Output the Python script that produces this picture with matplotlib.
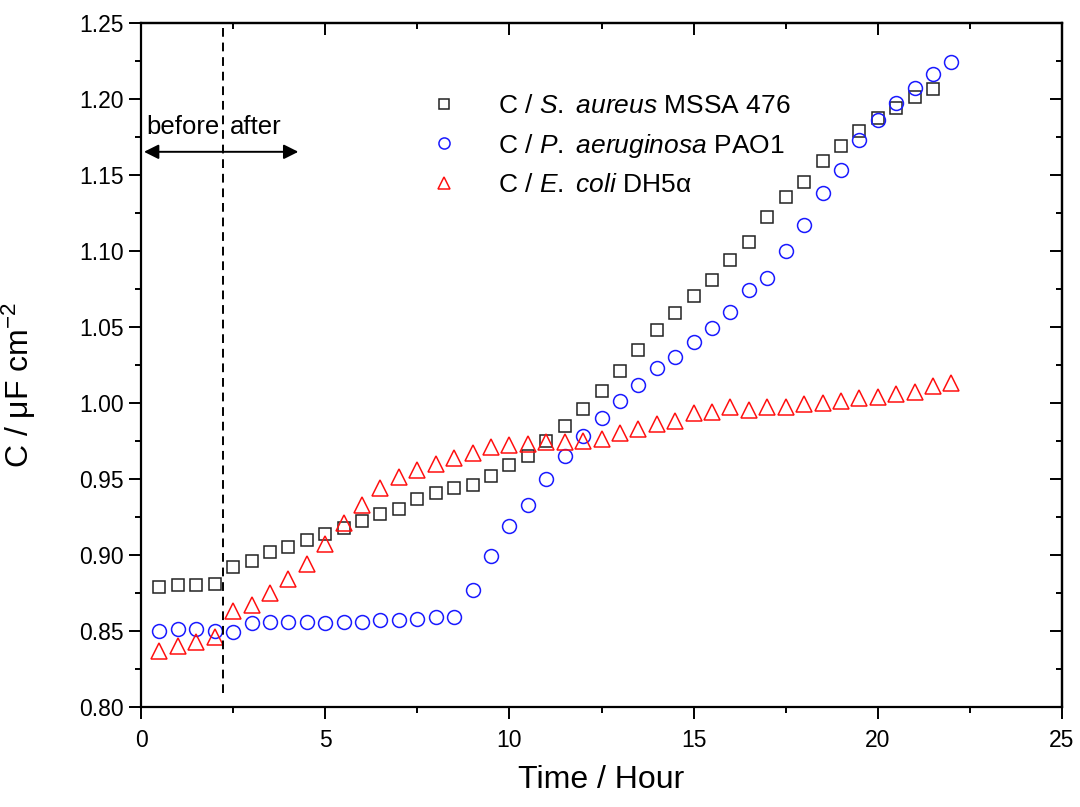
import matplotlib
matplotlib.use("Agg")
import matplotlib.pyplot as plt

plt.rcParams['font.family'] = ['Liberation Sans', 'DejaVu Sans']
plt.rcParams['mathtext.fontset'] = 'custom'
plt.rcParams['mathtext.rm'] = 'Liberation Sans'
plt.rcParams['mathtext.it'] = 'Liberation Sans:italic'

# time points (hours)
t_sa = [0.5, 1.0, 1.5, 2.0, 2.5, 3.0, 3.5, 4.0, 4.5, 5.0, 5.5, 6.0, 6.5, 7.0, 7.5,
        8.0, 8.5, 9.0, 9.5, 10.0, 10.5, 11.0, 11.5, 12.0, 12.5, 13.0, 13.5, 14.0,
        14.5, 15.0, 15.5, 16.0, 16.5, 17.0, 17.5, 18.0, 18.5, 19.0, 19.5, 20.0,
        20.5, 21.0, 21.5]
t_all = t_sa + [22.0]

# capacitance, uF cm-2
c_sa = [0.879, 0.880, 0.880, 0.881, 0.892, 0.896, 0.902, 0.905, 0.910, 0.914,
        0.918, 0.922, 0.927, 0.930, 0.937, 0.941, 0.944, 0.946, 0.952, 0.959,
        0.965, 0.975, 0.985, 0.996, 1.008, 1.021, 1.035, 1.048, 1.059, 1.070,
        1.081, 1.094, 1.106, 1.122, 1.135, 1.145, 1.159, 1.169, 1.179, 1.187,
        1.194, 1.201, 1.206]
c_pa = [0.850, 0.851, 0.851, 0.850, 0.849, 0.855, 0.856, 0.856, 0.856, 0.855,
        0.856, 0.856, 0.857, 0.857, 0.858, 0.859, 0.859, 0.877, 0.899, 0.919,
        0.933, 0.950, 0.965, 0.978, 0.990, 1.001, 1.012, 1.023, 1.030, 1.040,
        1.049, 1.060, 1.074, 1.082, 1.100, 1.117, 1.138, 1.153, 1.173, 1.186,
        1.197, 1.207, 1.216, 1.224]
c_ec = [0.837, 0.840, 0.843, 0.846, 0.863, 0.867, 0.875, 0.884, 0.894, 0.907,
        0.921, 0.933, 0.944, 0.951, 0.956, 0.960, 0.964, 0.967, 0.971, 0.972,
        0.973, 0.974, 0.974, 0.975, 0.976, 0.980, 0.983, 0.986, 0.988, 0.993,
        0.994, 0.997, 0.995, 0.997, 0.997, 0.999, 1.000, 1.001, 1.003, 1.004,
        1.006, 1.007, 1.011, 1.013]

lab_sa = r"C / $\mathit{S.\ aureus}$ MSSA 476"
lab_pa = r"C / $\mathit{P.\ aeruginosa}$ PAO1"
lab_ec = r"C / $\mathit{E.\ coli}$ DH5α"

t_add = 2.23  # time of addition

fig = plt.figure(figsize=(10.8, 8.07), dpi=100)
ax = fig.add_axes([0.1306, 0.1239, 0.8527, 0.8482])

ax.plot(t_sa, c_sa, ls='none', marker='s', ms=8.7, mfc='none', mec='#222222', mew=1.1, label=lab_sa)
ax.plot(t_all, c_pa, ls='none', marker='o', ms=10, mfc='none', mec='#1a1aff', mew=1.1, label=lab_pa)
ax.plot(t_all, c_ec, ls='none', marker='^', ms=11, mfc='none', mec='#ff1010', mew=1.1, label=lab_ec)

ax.plot([t_add, t_add], [0.809, 1.25], color='k', lw=1.4, dashes=[4.5, 3])
ax.annotate('', xy=(0.08, 1.165), xytext=(4.27, 1.165),
            arrowprops=dict(arrowstyle='<|-|>', color='k', lw=1.4,
                            mutation_scale=22, shrinkA=0, shrinkB=0))
ax.text(0.13, 1.177, 'before', fontsize=18.5, va='baseline', ha='left')
ax.text(2.42, 1.177, 'after', fontsize=18.5, va='baseline', ha='left')

ax.set_xlim(0, 25)
ax.set_ylim(0.80, 1.25)
ax.set_xticks([0, 5, 10, 15, 20, 25])
ax.set_xticks([2.5, 7.5, 12.5, 17.5, 22.5], minor=True)
ax.set_yticks([0.80, 0.85, 0.90, 0.95, 1.00, 1.05, 1.10, 1.15, 1.20, 1.25])
ax.set_yticks([0.825, 0.875, 0.925, 0.975, 1.025, 1.075, 1.125, 1.175, 1.225], minor=True)
ax.yaxis.set_major_formatter(matplotlib.ticker.FormatStrFormatter('%.2f'))

for s in ax.spines.values():
    s.set_linewidth(1.6)
ax.tick_params(which='both', direction='out', width=1.4, labelsize=16.5, top=False, right=False)
ax.tick_params(which='major', length=8.5)
ax.tick_params(which='minor', length=4.5)
ax.tick_params(axis='x', pad=7)
ax.tick_params(axis='y', pad=4)

# inward ticks on top and right
sec_x = ax.secondary_xaxis('top')
sec_x.set_xticks([0, 5, 10, 15, 20, 25])
sec_x.set_xticks([2.5, 7.5, 12.5, 17.5, 22.5], minor=True)
sec_x.tick_params(which='both', direction='in', width=1.4, labeltop=False)
sec_x.tick_params(which='major', length=8.5)
sec_x.tick_params(which='minor', length=4.5)
sec_x.spines['top'].set_linewidth(1.6)
sec_y = ax.secondary_yaxis('right')
sec_y.set_yticks([0.80, 0.85, 0.90, 0.95, 1.00, 1.05, 1.10, 1.15, 1.20, 1.25])
sec_y.set_yticks([0.825, 0.875, 0.925, 0.975, 1.025, 1.075, 1.125, 1.175, 1.225], minor=True)
sec_y.tick_params(which='both', direction='in', width=1.4, labelright=False)
sec_y.tick_params(which='major', length=8.5)
sec_y.tick_params(which='minor', length=4.5)
sec_y.spines['right'].set_linewidth(1.6)

ax.set_xlabel('Time / Hour', fontsize=23, labelpad=10)
ax.set_ylabel('C / μF cm$^{-2}$', fontsize=23)
ax.yaxis.set_label_coords(-0.112, 0.47)

ax.legend(loc='upper left', bbox_to_anchor=(0.315, 0.895), frameon=False,
          fontsize=19, markerscale=0.8, handlelength=1.0, handletextpad=1.55,
          labelspacing=0.5, borderpad=0, borderaxespad=0)

fig.savefig('out.png', dpi=100)
